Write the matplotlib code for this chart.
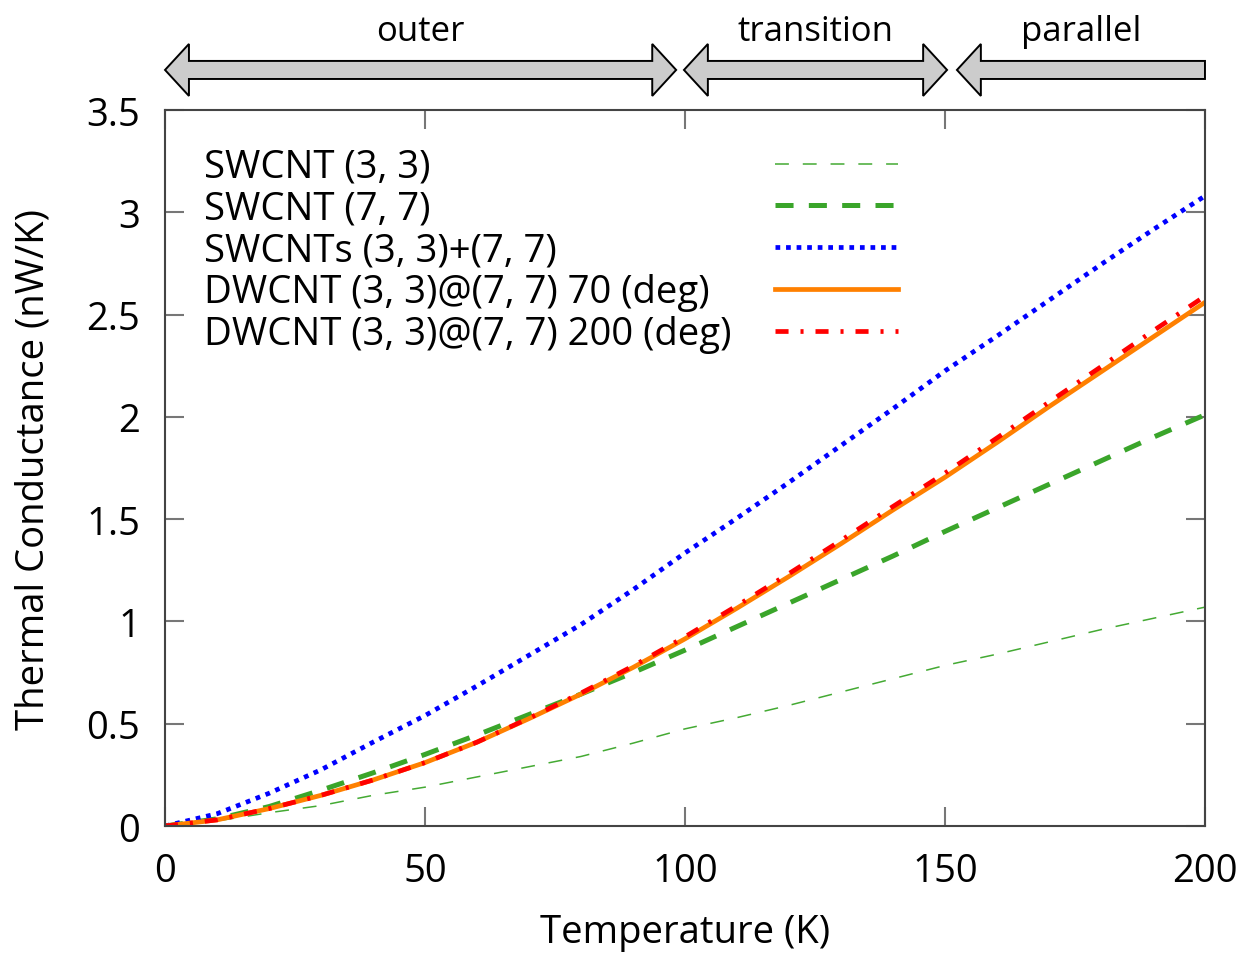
"""
Thermal conductance of SWCNTs / DWCNT vs temperature
"""
import numpy as np
import matplotlib
matplotlib.use("Agg")
import matplotlib.pyplot as plt
from matplotlib.patches import Polygon
from matplotlib.transforms import blended_transform_factory

plt.rcParams['font.family'] = ['Open Sans', 'DejaVu Sans']
plt.rcParams['lines.scale_dashes'] = False

# data
temp = [0, 10, 20, 30, 40, 50, 60, 70, 80, 90, 100,
        110, 120, 130, 140, 150, 160, 170, 180, 190, 200]
sw33 = [0, 0.025, 0.065, 0.10, 0.15, 0.19, 0.24, 0.29, 0.34, 0.405, 0.475,
        0.53, 0.59, 0.655, 0.72, 0.785, 0.84, 0.90, 0.96, 1.015, 1.07]
sw77 = [0, 0.035, 0.095, 0.175, 0.26, 0.35, 0.445, 0.545, 0.645, 0.75, 0.86,
        0.975, 1.09, 1.205, 1.32, 1.44, 1.555, 1.67, 1.785, 1.90, 2.01]
sw_sum = [0, 0.06, 0.16, 0.275, 0.41, 0.54, 0.685, 0.835, 0.985, 1.155, 1.335,
          1.505, 1.68, 1.86, 2.04, 2.225, 2.395, 2.57, 2.745, 2.915, 3.08]
dw70 = [0, 0.03, 0.085, 0.15, 0.225, 0.31, 0.41, 0.525, 0.645, 0.775, 0.915,
        1.065, 1.22, 1.38, 1.545, 1.705, 1.875, 2.05, 2.22, 2.39, 2.56]
dw200 = [0, 0.03, 0.085, 0.15, 0.225, 0.31, 0.41, 0.527, 0.65, 0.782, 0.925,
         1.077, 1.234, 1.396, 1.562, 1.725, 1.897, 2.072, 2.245, 2.42, 2.59]

labels = ['SWCNT (3, 3)', 'SWCNT (7, 7)', 'SWCNTs (3, 3)+(7, 7)',
          'DWCNT (3, 3)@(7, 7) 70 (deg)', 'DWCNT (3, 3)@(7, 7) 200 (deg)']

regions = [('outer', 0, 98.3, True), ('transition', 99.8, 150.4, True),
           ('parallel', 152.3, 200, False)]

fs = 27.5

fig = plt.figure(figsize=(12.54, 9.54), dpi=100)
ax = fig.add_axes([0.1316, 0.1331, 0.8293, 0.7505])

lines = []
lines += ax.plot(temp, sw33, color='#44aa33', lw=1.1, dashes=(10, 10))
lines += ax.plot(temp, sw77, color='#3aa52a', lw=3.6, dashes=(13, 11))
lines += ax.plot(temp, sw_sum, color='#0000ff', lw=3.4, dashes=(3.4, 4.2))
lines += ax.plot(temp, dw70, color='#ff8000', lw=3.4)
lines += ax.plot(temp, dw200, color='#ff0000', lw=3.4, dashes=(9.4, 8.6, 2.2, 8.6))

ax.set_xlim(0, 200)
ax.set_ylim(0, 3.5)
ax.set_xticks([0, 50, 100, 150, 200])
ax.set_yticks([0, 0.5, 1, 1.5, 2, 2.5, 3, 3.5])
ax.set_yticklabels(['0', '0.5', '1', '1.5', '2', '2.5', '3', '3.5'])
ax.tick_params(direction='in', length=13.5, width=1.5, color='#777777',
               labelsize=fs, top=True, right=True)
ax.tick_params(axis='x', pad=19)
ax.tick_params(axis='y', pad=18)
for s in ax.spines.values():
    s.set_linewidth(1.5)
    s.set_color('#444444')

ax.set_xlabel('Temperature (K)', fontsize=fs, labelpad=16)
ax.set_ylabel('Thermal Conductance (nW/K)', fontsize=fs, labelpad=24)

# legend: left-aligned labels, keys in a column on the right
kw = dict(loc='upper left', frameon=False, fontsize=fs, labelspacing=0.1,
          borderaxespad=0, borderpad=0)
leg_txt = ax.legend(lines, labels, bbox_to_anchor=(0.037, 0.947),
                    handlelength=0, handletextpad=0, **kw)
for h in leg_txt.legend_handles:
    h.set_visible(False)
ax.add_artist(leg_txt)
ax.legend(lines, [''] * len(lines), bbox_to_anchor=(0.587, 0.947),
          handlelength=3.2, handletextpad=0, **kw)

# region arrows above the plot
tr = blended_transform_factory(ax.transData, ax.transAxes)
yc, hh, sh, hl = 1.056, 0.0363, 0.0126, 4.6
for name, x0, x1, right_head in regions:
    if right_head:
        pts = [(x0, yc), (x0 + hl, yc + hh), (x0 + hl, yc + sh), (x1 - hl, yc + sh),
               (x1 - hl, yc + hh), (x1, yc), (x1 - hl, yc - hh), (x1 - hl, yc - sh),
               (x0 + hl, yc - sh), (x0 + hl, yc - hh)]
    else:
        pts = [(x0, yc), (x0 + hl, yc + hh), (x0 + hl, yc + sh), (x1, yc + sh),
               (x1, yc - sh), (x0 + hl, yc - sh), (x0 + hl, yc - hh)]
    ax.add_patch(Polygon(pts, closed=True, transform=tr, clip_on=False,
                         facecolor='#cccccc', edgecolor='black', lw=1.4))
    ax.text((x0 + x1) / 2, 1.11, name, transform=tr, ha='center', va='center',
            fontsize=25)

fig.savefig('out.png', dpi=100)
